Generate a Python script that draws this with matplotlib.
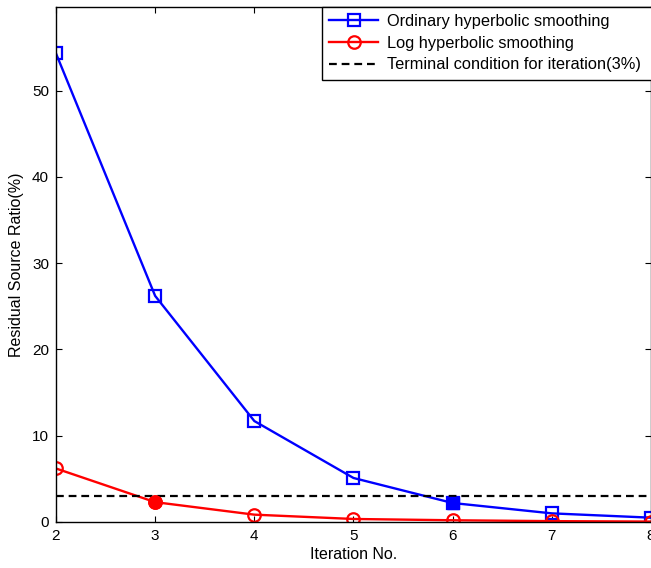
import matplotlib
matplotlib.use("Agg")
from matplotlib import pyplot as plt
import numpy as np

plt.rcParams['font.family'] = ['Liberation Sans', 'DejaVu Sans']

iterations = [2, 3, 4, 5, 6, 7, 8]
ordinary = [54.3, 26.2, 11.7, 5.1, 2.2, 1.0, 0.5]
log_hyp = [6.2, 2.3, 0.85, 0.35, 0.2, 0.1, 0.05]
threshold = 3.0

fig = plt.figure(figsize=(6.51, 5.68), dpi=100)
ax = fig.add_axes([0.086, 0.081, 0.914, 0.907])

ax.plot(iterations, ordinary, '-s', color='blue', lw=1.7, mfc='none', mec='blue',
        ms=9, mew=1.6, label='Ordinary hyperbolic smoothing')
ax.plot(iterations, log_hyp, '-o', color='red', lw=1.7, mfc='none', mec='red',
        ms=9, mew=1.6, label='Log hyperbolic smoothing')
ax.plot([2, 8], [threshold, threshold], '--', color='black', lw=1.6,
        dashes=(3.5, 2.2), label='Terminal condition for iteration(3%)')

# points where the curves cross the threshold are filled
ax.plot(iterations[4], ordinary[4], 's', color='blue', ms=9)
ax.plot(iterations[1], log_hyp[1], 'o', color='red', ms=9.5)

ax.set_xlim(2, 8)
ax.set_ylim(0, 59.7)
ax.set_xticks(iterations)
ax.set_yticks([0, 10, 20, 30, 40, 50])
ax.tick_params(direction='in', top=True, right=True, labelsize=11, length=4, pad=5)
ax.set_xlabel('Iteration No.', fontsize=11.5, labelpad=3)
ax.set_ylabel('Residual Source Ratio(%)', fontsize=11.5, labelpad=6)
for s in ax.spines.values():
    s.set_linewidth(1.0)

# legend box runs past the right edge of the picture, as in the original
leg = ax.legend(loc='upper left', bbox_to_anchor=(0.447, 0, 0.57, 1), mode='expand',
                borderaxespad=0, fancybox=False, edgecolor='black', framealpha=1,
                fontsize=11.8, handlelength=3.0, labelspacing=0.4, borderpad=0.45,
                handletextpad=0.5)
leg.get_frame().set_linewidth(1.0)

fig.savefig('out.png', dpi=100)
